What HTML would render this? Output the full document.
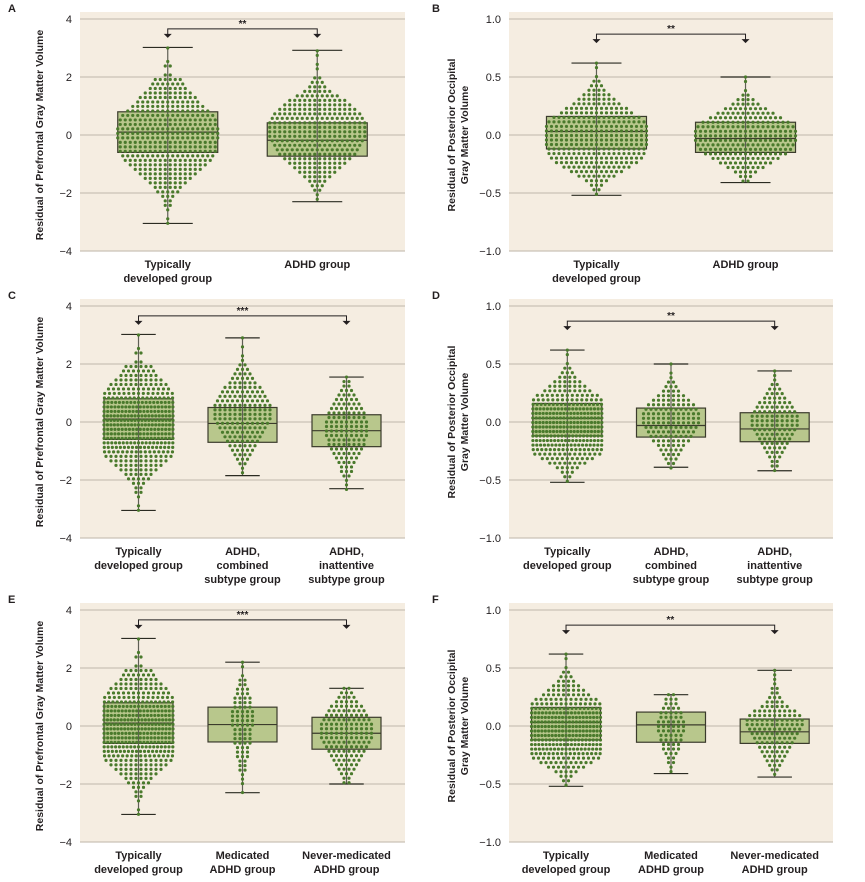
<!DOCTYPE html>
<html><head><meta charset="utf-8">
<style>
html,body{margin:0;padding:0;background:#fff;}
svg{display:block;font-family:"Liberation Sans",sans-serif;}
</style></head>
<body>
<svg id="fig" width="865" height="882" viewBox="0 0 865 882" xmlns="http://www.w3.org/2000/svg"></svg>
<script>
// ---------- DATA ----------
const groupsAB2 = ["Typically|developed group","ADHD group"];
const groupsCD3 = ["Typically|developed group","ADHD,|combined|subtype group","ADHD,|inattentive|subtype group"];
const groupsEF3 = ["Typically|developed group","Medicated|ADHD group","Never-medicated|ADHD group"];
const pfTicks = [4,2,0,-2,-4];
const poTicks = [1.0,0.5,0.0,-0.5,-1.0];
// box stats: [whiskerLow, q1, median, q3, whiskerHigh]
const boxTdPF = [-3.05,-0.6,0.1,0.8,3.02];
const boxAdhdPF = [-2.3,-0.73,-0.18,0.42,2.92];
const boxCombPF = [-1.85,-0.7,-0.05,0.5,2.9];
const boxInatPF = [-2.3,-0.85,-0.3,0.25,1.55];
const boxMedPF = [-2.3,-0.55,0.05,0.65,2.2];
const boxNevPF = [-2.0,-0.8,-0.25,0.3,1.3];
const boxTdPO = [-0.52,-0.12,0.03,0.16,0.62];
const boxAdhdPO = [-0.41,-0.15,-0.03,0.11,0.5];
const boxCombPO = [-0.39,-0.13,-0.03,0.12,0.5];
const boxInatPO = [-0.42,-0.17,-0.06,0.08,0.44];
const boxMedPO = [-0.41,-0.14,0.01,0.12,0.27];
const boxNevPO = [-0.44,-0.15,-0.05,0.06,0.48];
// swarm: dots per row, starting value, row step (data units)
const pfStep = 0.155, poStep = 0.039;
const swTdPF = [1,0,0,1,2,0,2,6,7,8,10,12,13,15,17,19,20,20,21,21,21,20,20,20,19,18,16,14,12,10,8,6,5,3,2,2,1,0,1,1];
const swAdhdPF = [1,1,0,1,1,0,2,3,4,6,9,12,14,16,18,19,20,20,20,20,19,18,17,16,14,12,10,8,6,4,3,2,1,1];
const swCombPF = [1,0,1,0,1,1,2,3,4,5,6,8,9,10,11,12,12,12,12,11,10,9,8,7,6,5,4,3,2,1,1];
const swInatPF = [1,2,2,3,4,5,6,7,8,8,9,9,9,9,8,8,7,6,5,4,3,3,2,1,1,1];
const swMedPF = [1,1,0,1,2,2,3,3,4,4,4,5,5,5,5,4,4,4,4,3,3,3,2,2,2,1,1,1,0,1];
const swNevPF = [2,3,4,5,7,8,9,10,11,11,11,11,10,9,8,7,6,5,4,3,2,2];
const swTdPO = [1,1,0,1,2,3,4,6,8,10,13,15,18,20,21,21,21,21,21,20,20,19,17,14,11,8,5,3,2,1];
const swAdhdPO = [1,1,0,1,2,4,6,9,12,15,18,20,21,21,21,20,19,17,14,11,8,5,3,2];
const swCombPO = [1,0,1,1,2,3,4,6,8,10,11,12,12,12,11,10,9,8,6,5,4,3,2,1];
const swInatPO = [1,1,1,2,3,4,5,7,8,9,10,10,10,9,8,7,6,5,4,3,2,2,1];
const swMedPO = [2,3,3,4,5,5,6,6,6,5,5,4,4,3,2,2,1,1];
const swNevPO = [1,1,1,1,2,2,3,4,6,9,11,12,12,11,10,9,8,7,6,5,4,3,2,1];
const sigA = "**", sigB = "**", sigC = "***", sigD = "**", sigE = "***", sigF = "**";

// ---------- DRAW ----------
const NS = "http://www.w3.org/2000/svg";
const fig = document.getElementById("fig");
function mk(tag, attrs, parent){const e=document.createElementNS(NS,tag);for(const k in attrs)e.setAttribute(k,attrs[k]);(parent||fig).appendChild(e);return e;}

function panel(p){
  const g = mk("g",{});
  
  
  const [lo,hi]=p.domain;
  const y = v => p.yTop + (hi - v)/(hi-lo)*(p.yBot-p.yTop);
  const xc = f => p.x0 + f*(p.x1-p.x0);
  const bg = mk("rect",{x:p.x0,y:p.yTop-7,width:p.x1-p.x0,height:p.yBot-p.yTop+7,fill:"#f5ede1"},g);
  
  
  const lab = mk("text",{x:p.lx,y:p.ly,"font-size":11,"font-weight":"bold",fill:"#231f20"},g);
  lab.textContent=p.letter;
  
  
  p.ticks.forEach(t=>{
    const gl=mk("line",{x1:p.x0,x2:p.x1,y1:y(t),y2:y(t),stroke:"#cbc2b6","stroke-width":1.2},g);
    
    
    const tl=mk("text",{x:p.x0-8,y:y(t)+4,"text-anchor":"end","font-size":11,fill:"#231f20"},g);
    tl.textContent = p.fmt(t);
    
    
  });
  // y title
  const tx = p.titleX, ty=(p.yTop+p.yBot)/2;
  p.title.forEach((line,i)=>{
    const t=mk("text",{x:tx+i*13,y:ty,"text-anchor":"middle","font-size":10.5,"font-weight":"bold",fill:"#231f20",transform:`rotate(-90 ${tx+i*13} ${ty})`},g);
    t.textContent=line;
    
    
  });
  p.groups.forEach((gr,i)=>{
    const cx = xc(p.fr[i]);
    const b = gr.box;
    const bw = p.boxW;
    const bx = mk("rect",{x:cx-bw/2,y:y(b[3]),width:bw,height:y(b[1])-y(b[3]),fill:"#b8c78c",stroke:"#3b3b2c","stroke-width":1.2},g);
    
    
    const wl=mk("line",{x1:cx,x2:cx,y1:y(b[4]),y2:y(b[0]),stroke:"#5f5f55","stroke-width":1.2},g);
    
    
    [b[0],b[4]].forEach(v=>{
      const c=mk("line",{x1:cx-bw/4,x2:cx+bw/4,y1:y(v),y2:y(v),stroke:"#2b2b22","stroke-width":1.2},g);
      
      
    });
    const md=mk("line",{x1:cx-bw/2,x2:cx+bw/2,y1:y(b[2]),y2:y(b[2]),stroke:"#3b3b2c","stroke-width":1.2},g);
    
    
    // swarm
    const maxW = bw*1.05;
    gr.sw.forEach((n,r)=>{
      if(!n) return;
      const v = gr.start - r*p.step;
      const sp = Math.min(5, maxW/Math.max(n,1));
      for(let k=0;k<n;k++){
        const d=mk("circle",{cx:cx+(k-(n-1)/2)*sp,cy:y(v),r:1.6,fill:"#4a7a2c"},g);
        
        
      }
    });
    gr.label.split("|").forEach((ln,j)=>{
      const t=mk("text",{x:cx,y:p.yBot+17+j*14,"text-anchor":"middle","font-size":11,"font-weight":"bold",fill:"#231f20"},g);
      t.textContent=ln;
      
      
    });
  });
  // significance bracket
  const xa = xc(p.fr[0]), xb = xc(p.fr[p.fr.length-1]);
  const yb = y(p.sigY);
  const br=mk("path",{d:`M${xa},${yb+7}V${yb}H${xb}V${yb+7}`,fill:"none",stroke:"#231f20","stroke-width":1},g);
  
  
  [xa,xb].forEach(xx=>{
    const a=mk("path",{d:`M${xx-4},${yb+5}L${xx+4},${yb+5}L${xx},${yb+9}Z`,fill:"#231f20"},g);
    
    
  });
  const st=mk("text",{x:(xa+xb)/2,y:yb-2,"text-anchor":"middle","font-size":10,"font-weight":"bold",fill:"#231f20"},g);
  st.textContent=p.sig;
  
  
}
const fmtPF = t => t<0 ? "\u2212"+Math.abs(t) : String(t);
const fmtPO = t => t<0 ? "\u2212"+Math.abs(t).toFixed(1) : t.toFixed(1);
const pfTitle=["Residual of Prefrontal Gray Matter Volume"];
const poTitle=["Residual of Posterior Occipital","Gray Matter Volume"];
const L={x0:80,x1:405,domain:[-4,4],ticks:pfTicks,fmt:fmtPF,title:pfTitle,titleX:43,step:pfStep,lx:8};
const R={x0:509,x1:833,domain:[-1,1],ticks:poTicks,fmt:fmtPO,title:poTitle,titleX:455,step:poStep,lx:432};
const rows=[[19,251],[306,538],[610,842]];
const fr2=[0.27,0.73], fr3=[0.18,0.5,0.82];
panel({...L,letter:"A",yTop:rows[0][0],yBot:rows[0][1],ly:12,fr:fr2,boxW:100,sig:sigA,sigY:3.66,groups:[
  {label:groupsAB2[0],box:boxTdPF,sw:swTdPF,start:3.0},{label:groupsAB2[1],box:boxAdhdPF,sw:swAdhdPF,start:2.9}]});
panel({...R,letter:"B",yTop:rows[0][0],yBot:rows[0][1],ly:12,fr:fr2,boxW:100,sig:sigB,sigY:0.87,groups:[
  {label:groupsAB2[0],box:boxTdPO,sw:swTdPO,start:0.62},{label:groupsAB2[1],box:boxAdhdPO,sw:swAdhdPO,start:0.5}]});
panel({...L,letter:"C",yTop:rows[1][0],yBot:rows[1][1],ly:299,fr:fr3,boxW:69,sig:sigC,sigY:3.66,groups:[
  {label:groupsCD3[0],box:boxTdPF,sw:swTdPF,start:3.0},{label:groupsCD3[1],box:boxCombPF,sw:swCombPF,start:2.9},{label:groupsCD3[2],box:boxInatPF,sw:swInatPF,start:1.55}]});
panel({...R,letter:"D",yTop:rows[1][0],yBot:rows[1][1],ly:299,fr:fr3,boxW:69,sig:sigD,sigY:0.87,groups:[
  {label:groupsCD3[0],box:boxTdPO,sw:swTdPO,start:0.62},{label:groupsCD3[1],box:boxCombPO,sw:swCombPO,start:0.5},{label:groupsCD3[2],box:boxInatPO,sw:swInatPO,start:0.44}]});
panel({...L,letter:"E",yTop:rows[2][0],yBot:rows[2][1],ly:603,fr:fr3,boxW:69,sig:sigE,sigY:3.66,groups:[
  {label:groupsEF3[0],box:boxTdPF,sw:swTdPF,start:3.0},{label:groupsEF3[1],box:boxMedPF,sw:swMedPF,start:2.2},{label:groupsEF3[2],box:boxNevPF,sw:swNevPF,start:1.3}]});
panel({...R,letter:"F",yTop:rows[2][0],yBot:rows[2][1],ly:603,fr:[0.176,0.5,0.82],boxW:69,sig:sigF,sigY:0.87,groups:[
  {label:groupsEF3[0],box:boxTdPO,sw:swTdPO,start:0.62},{label:groupsEF3[1],box:boxMedPO,sw:swMedPO,start:0.27},{label:groupsEF3[2],box:boxNevPO,sw:swNevPO,start:0.48}]});
</script>
</body></html>
